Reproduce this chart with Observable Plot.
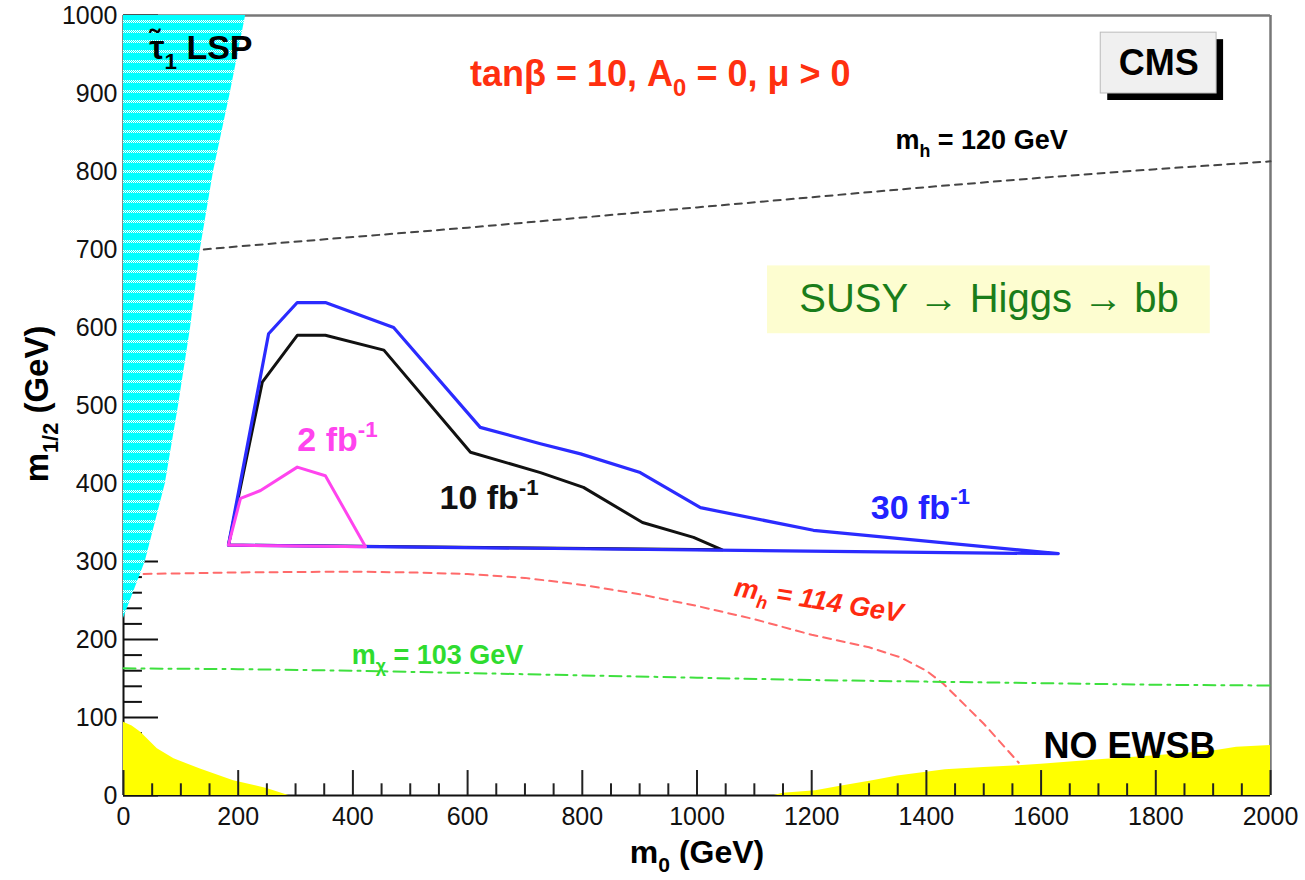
<!DOCTYPE html>
<html><head><meta charset="utf-8">
<script src="https://cdn.jsdelivr.net/npm/d3@7"></script>
<script src="https://cdn.jsdelivr.net/npm/@observablehq/plot@0.6"></script>
<style>body{margin:0;background:#fff;}#chart{width:1305px;height:880px;}</style>
</head><body><div id="chart"></div>
<script>
// ---------- tick values ----------
const xMajorTicks = [0, 200, 400, 600, 800, 1000, 1200, 1400, 1600, 1800, 2000];
const yMajorTicks = [0, 100, 200, 300, 400, 500, 600, 700, 800, 900, 1000];
const xMinorTicks = d3.range(0, 2001, 50).filter(v => v % 200 !== 0);
const yMinorTicks = d3.range(0, 1001, 20).filter(v => v % 100 !== 0);

// ---------- excluded regions ----------
const stauLspEdge_m0  = [0, 38, 73, 96, 117, 134, 157, 186, 213];
const stauLspEdge_m12 = [227, 300, 400, 500, 600, 700, 800, 900, 1000];
const noEwsbLeft_m0  = [0, 15, 30, 59, 88, 134, 192, 250, 288];
const noEwsbLeft_m12 = [94, 89, 81, 60, 47, 34, 19, 9, 0];
const noEwsbRight_m0  = [1135, 1150, 1207, 1250, 1306, 1350, 1433, 1500, 1561, 1600, 1707, 1800, 1900, 1941, 2000];
const noEwsbRight_m12 = [0, 3, 6, 12, 19, 25, 33, 36, 38, 40, 46, 51, 57, 62, 64];

// ---------- iso-mass lines ----------
const mh120_m0  = [140, 200, 400, 600, 800, 1000, 1200, 1400, 1600, 1800, 2000];
const mh120_m12 = [700, 704, 716, 728, 741, 754, 767, 780, 792, 803, 813];
const mh114_m0  = [35, 200, 400, 500, 600, 700, 800, 900, 1000, 1100, 1200, 1300, 1355, 1400, 1430, 1500, 1561];
const mh114_m12 = [284, 286, 287, 286, 284, 279, 270, 258, 243, 226, 206, 190, 177, 160, 143, 92, 42];
const mchi103_m0  = [0, 200, 400, 600, 800, 1000, 1200, 1400, 1600, 1800, 2000];
const mchi103_m12 = [163, 162, 160, 157, 154, 151, 148, 146, 144, 142, 141];

// ---------- discovery contours ----------
const lumi2_m0   = [183, 204, 239, 303, 352, 422, 183];
const lumi2_m12  = [321, 381, 391, 421, 410, 319, 321];
const lumi10_m0  = [183, 242, 303, 352, 454, 605, 727, 802, 905, 994, 1044, 183];
const lumi10_m12 = [321, 530, 590, 590, 571, 440, 414, 395, 350, 331, 315, 321];
const lumi30_m0  = [183, 253, 303, 352, 471, 622, 727, 797, 901, 1006, 1203, 1630, 183];
const lumi30_m12 = [321, 592, 632, 632, 600, 472, 451, 438, 414, 369, 340, 310, 321];

const zip = (xs, ys) => xs.map((x, i) => ({x, y: ys[i]}));

const FONT = "'Liberation Sans', Arial, Helvetica, sans-serif";
const lab = (t, o) => Plot.text([t], {text: d => d, fontWeight: "bold", ...o});

const plot = Plot.plot({
  width: 1305, height: 880,
  marginLeft: 123, marginRight: 35, marginTop: 15, marginBottom: 85,
  x: {domain: [0, 2000], axis: null},
  y: {domain: [0, 1000], axis: null},
  style: {fontFamily: FONT, background: "white", overflow: "visible"},
  marks: [
    // frame
    Plot.ruleY([1000], {stroke: "#777", strokeWidth: 2.5}),
    Plot.ruleX([2000], {stroke: "#777", strokeWidth: 2.5}),
    Plot.ruleY([0], {stroke: "#111", strokeWidth: 2}),
    Plot.ruleX([0], {stroke: "#111", strokeWidth: 2}),
    // y ticks (inside)
    Plot.ruleY(yMajorTicks, {y: d => d, x1: 0, x2: 61, stroke: "#111", strokeWidth: 2}),
    Plot.ruleY(yMinorTicks, {y: d => d, x1: 0, x2: 33, stroke: "#111", strokeWidth: 2}),
    // iso-mass lines
    Plot.line(zip(mh120_m0, mh120_m12), {x: "x", y: "y", stroke: "#444", strokeWidth: 2, strokeDasharray: "7,6"}),
    Plot.line(zip(mh114_m0, mh114_m12), {x: "x", y: "y", stroke: "#ff6a6a", strokeWidth: 2, strokeDasharray: "8,6"}),
    Plot.line(zip(mchi103_m0, mchi103_m12), {x: "x", y: "y", stroke: "#3ee03e", strokeWidth: 2, strokeDasharray: "12,6,3,6"}),
    // excluded regions
    Plot.areaX(zip(stauLspEdge_m0, stauLspEdge_m12), {y: "y", x1: 0, x2: "x", fill: "url(#stauPat)"}),
    Plot.areaY(zip(noEwsbLeft_m0, noEwsbLeft_m12), {x: "x", y1: 0, y2: "y", fill: "#ffff00"}),
    Plot.areaY(zip(noEwsbRight_m0, noEwsbRight_m12), {x: "x", y1: 0, y2: "y", fill: "#ffff00"}),
    // x ticks (inside)
    Plot.ruleX(xMajorTicks, {x: d => d, y1: 0, y2: 32, stroke: "#222", strokeWidth: 2}),
    Plot.ruleX(xMinorTicks, {x: d => d, y1: 0, y2: 15, stroke: "#222", strokeWidth: 2}),
    // tick labels
    Plot.text(xMajorTicks, {x: d => d, y: 0, dy: 21, text: d => String(d), fontSize: 25, fill: "#111"}),
    Plot.text(yMajorTicks, {x: 0, y: d => d, dx: -6, text: d => String(d), textAnchor: "end", fontSize: 25, fill: "#111"}),
    // contours
    Plot.line(zip(lumi10_m0, lumi10_m12), {x: "x", y: "y", stroke: "#111", strokeWidth: 3, strokeLinejoin: "round"}),
    Plot.line(zip(lumi30_m0, lumi30_m12), {x: "x", y: "y", stroke: "#2b2bff", strokeWidth: 3.2, strokeLinejoin: "round"}),
    Plot.line(zip(lumi2_m0, lumi2_m12), {x: "x", y: "y", stroke: "#ff44ee", strokeWidth: 3, strokeLinejoin: "round"}),
    // boxes
    Plot.rect([0], {x1: 1704, x2: 1906, y1: 900, y2: 978, dx: 7, dy: 7, fill: "#000"}),
    Plot.rect([0], {x1: 1704, x2: 1906, y1: 900, y2: 978, fill: "#f0f0f0", stroke: "#bbb", strokeWidth: 1}),
    Plot.rect([0], {x1: 1123, x2: 1895, y1: 592, y2: 679, fill: "#fdfdd0"}),
    // labels
    lab("CMS", {x: 1805, y: 938, fontSize: 36}),
    Plot.text(["SUSY \u2192 Higgs \u2192 bb"], {x: 1509, y: 636, text: d => d, fontSize: 40, fill: "#1a7d1a"}),
    lab("tan\u03B2 = 10, A_0 = 0, \u03BC > 0", {x: 936, y: 925, fontSize: 36, fill: "#ff3010"}),
    lab("\u03C4\u0303_1 LSP", {x: 45, y: 958, fontSize: 34, textAnchor: "start"}),
    lab("m_h = 120 GeV", {x: 1346, y: 840, fontSize: 27, textAnchor: "start"}),
    lab("m_\u03C7 = 103 GeV", {x: 398, y: 180, fontSize: 27, textAnchor: "start", fill: "#2fdc2f"}),
    lab("m_h = 114 GeV", {x: 1212, y: 250, fontSize: 27, fill: "#ff2a10", fontStyle: "italic", rotate: 9}),
    lab("2 fb^{-1}", {x: 303, y: 455, fontSize: 34, textAnchor: "start", fill: "#ff44ee"}),
    lab("10 fb^{-1}", {x: 551, y: 381, fontSize: 34, textAnchor: "start", fill: "#111"}),
    lab("30 fb^{-1}", {x: 1303, y: 369, fontSize: 34, textAnchor: "start", fill: "#2222ff"}),
    lab("NO EWSB", {x: 1604, y: 63, fontSize: 36, textAnchor: "start"}),
    // axis titles
    lab("m_0 (GeV)", {x: 1000, y: 0, dy: 57, fontSize: 32}),
    lab("m_{1/2} (GeV)", {x: 0, y: 502, dx: -86, fontSize: 33, rotate: -90})
  ]
});

document.getElementById("chart").appendChild(plot);

// pattern for the stau-LSP region
const NS = "http://www.w3.org/2000/svg";
const defs = document.createElementNS(NS, "defs");
defs.innerHTML = `<pattern id="stauPat" patternUnits="userSpaceOnUse" width="4" height="10">
  <rect width="4" height="10" fill="#00ffff"/>
  <rect x="1" y="0" width="1" height="1" fill="#ffffff"/><rect x="3" y="0" width="1" height="1" fill="#ffffff"/>
  <rect x="0" y="1" width="1" height="1" fill="#ffffff"/><rect x="2" y="1" width="1" height="1" fill="#ffffff"/>
  <rect x="1" y="2" width="1" height="1" fill="#ffffff"/><rect x="3" y="2" width="1" height="1" fill="#ffffff"/>
</pattern>`;
plot.insertBefore(defs, plot.firstChild);

// sub/superscripts: _x or _{...} and ^x or ^{...}
plot.querySelectorAll("text").forEach(el => {
  const s = el.textContent;
  if (!/[_^]/.test(s)) return;
  const fs = parseFloat(getComputedStyle(el).fontSize);
  const parts = [];
  const re = /([_^])(\{([^}]*)\}|(.))/gu;
  let last = 0, m;
  while ((m = re.exec(s))) {
    if (m.index > last) parts.push({t: s.slice(last, m.index), k: 0});
    parts.push({t: m[3] !== undefined ? m[3] : m[4], k: m[1] === "_" ? 1 : -1});
    last = re.lastIndex;
  }
  if (last < s.length) parts.push({t: s.slice(last), k: 0});
  el.textContent = "";
  let off = 0;
  for (const p of parts) {
    const target = p.k === 1 ? 0.3 * fs : p.k === -1 ? -0.42 * fs : 0;
    const ts = document.createElementNS(NS, "tspan");
    ts.setAttribute("dy", (target - off).toFixed(2));
    off = target;
    if (p.k) ts.setAttribute("font-size", (0.66 * fs).toFixed(1));
    ts.textContent = p.t;
    el.appendChild(ts);
  }
});
</script>
</body></html>
